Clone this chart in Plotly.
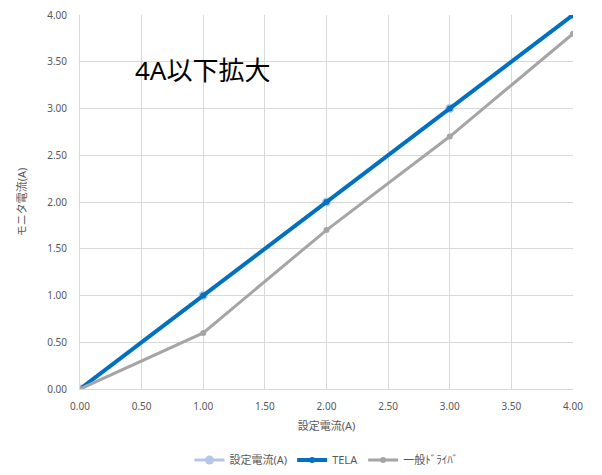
import plotly.graph_objects as go

# Set current (A) on the x axis
set_current = [0.0, 1.0, 2.0, 3.0, 4.0]

# Monitored current for each series (A)
series_names = ["設定電流(A)", "TELA", "一般ﾄﾞﾗｲﾊﾞ"]
reference_values = [0.0, 1.0, 2.0, 3.0, 4.0]
tela_values = [0.0, 1.0, 2.0, 3.0, 4.0]
generic_values = [0.0, 0.6, 1.7, 2.7, 3.8]

tick_values = [0.0, 0.5, 1.0, 1.5, 2.0, 2.5, 3.0, 3.5, 4.0]
tick_labels = [f"{v:.2f}" for v in tick_values]

colors = ["#B4C7E7", "#0070C0", "#A5A5A5"]
widths = [3, 4, 3]
marker_sizes = [9, 6, 6]

fig = go.Figure()
for i, vals in enumerate([reference_values, tela_values, generic_values]):
    fig.add_trace(go.Scatter(
        x=set_current, y=vals, name=series_names[i], mode="lines+markers",
        line=dict(color=colors[i], width=widths[i]),
        marker=dict(color=colors[i], size=marker_sizes[i]),
    ))

font_family = "Noto Sans, Noto Sans CJK JP, sans-serif"
axis_common = dict(
    range=[0, 4], tickvals=tick_values, ticktext=tick_labels,
    showgrid=True, gridcolor="#D9D9D9", gridwidth=1,
    zeroline=False, showline=True, linecolor="#D9D9D9", linewidth=1,
    tickfont=dict(size=10, color="#595959", family=font_family),
    ticks="", fixedrange=True, automargin=False,
)

fig.update_xaxes(**axis_common, ticklabelstandoff=8,
                 title=dict(text="設定電流(A)", standoff=10,
                            font=dict(size=11, color="#595959", family=font_family)))
fig.update_yaxes(**axis_common, ticklabelstandoff=10,
                 title=dict(text="モニタ電流(A)", standoff=18,
                            font=dict(size=11, color="#595959", family=font_family)))

fig.add_annotation(
    text="4A以下拡大", x=0.43, y=3.41, xref="x", yref="y",
    xanchor="left", yanchor="middle", showarrow=False,
    font=dict(size=26, color="#000000", family=font_family),
)

fig.update_layout(
    width=602, height=475,
    margin=dict(l=80, r=29, t=15, b=86, autoexpand=False),
    paper_bgcolor="white", plot_bgcolor="white",
    showlegend=True,
    legend=dict(orientation="h", x=0.5, xanchor="center", y=-0.19, yanchor="middle",
                font=dict(size=11, color="#595959", family=font_family)),
)

fig.write_html("out.html")
